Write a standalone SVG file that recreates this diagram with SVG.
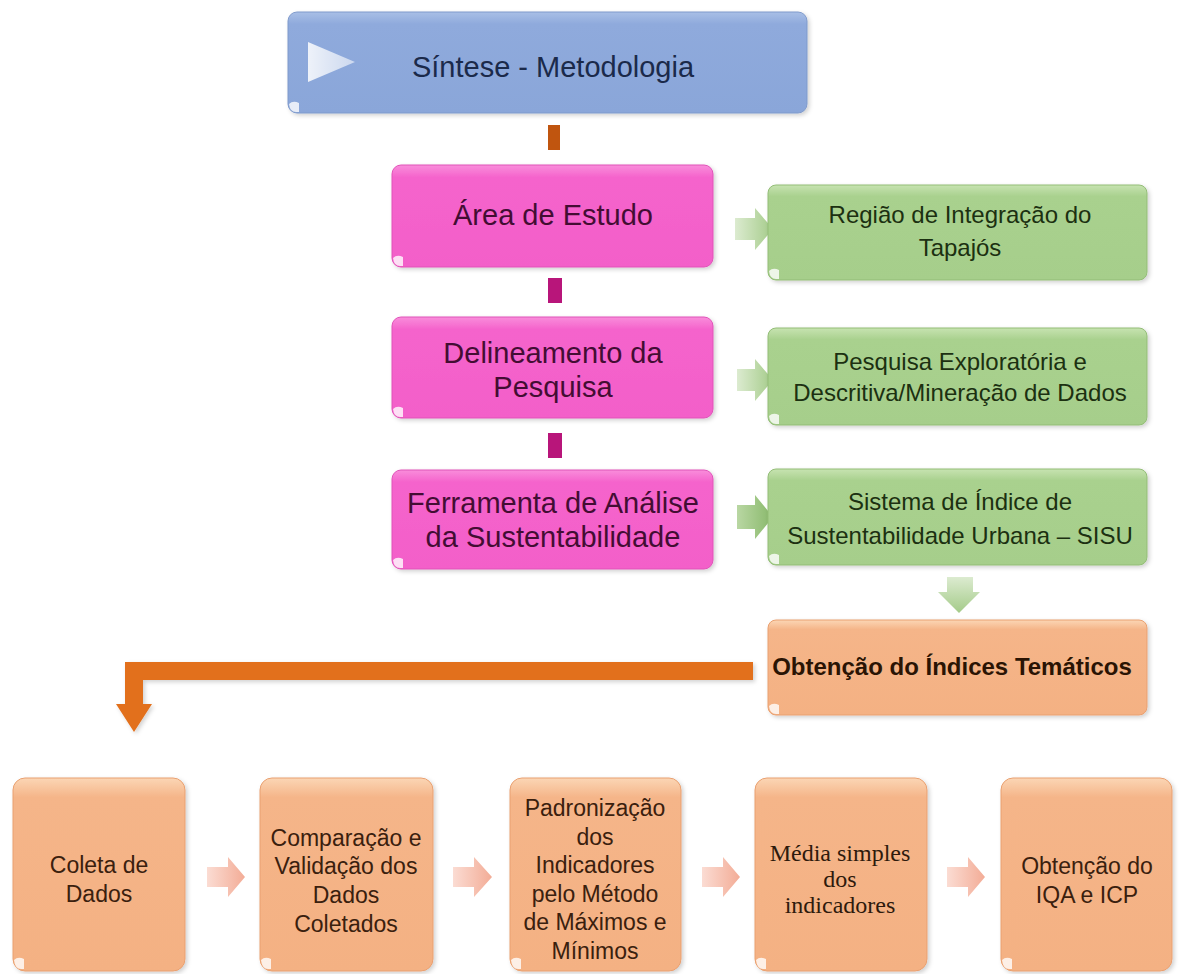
<svg xmlns="http://www.w3.org/2000/svg" width="1181" height="974" viewBox="0 0 1181 974">
<defs>
<style>
.sans{font-family:"Liberation Sans",Arial,sans-serif}
.serif{font-family:"Liberation Serif","Times New Roman",serif}
.t-blue{fill:#1b2a4a;font-size:29px}
.t-pink{fill:#430d33;font-size:29px}
.t-green{fill:#1c3011;font-size:24px}
.t-orange{fill:#2a1404;font-size:24px;font-weight:bold}
.t-bot{fill:#3a200e;font-size:23px}
.t-botserif{fill:#2e1a0c;font-size:24px}
.curl{fill:#ffffff;opacity:0.8}
</style>
<linearGradient id="gBlue" x1="0" y1="0" x2="0" y2="1">
<stop offset="0" stop-color="#a9bfe6"/><stop offset="0.12" stop-color="#8faadc"/><stop offset="1" stop-color="#8aa6d9"/>
</linearGradient>
<linearGradient id="gPink" x1="0" y1="0" x2="0" y2="1">
<stop offset="0" stop-color="#f98ddb"/><stop offset="0.12" stop-color="#f564cc"/><stop offset="1" stop-color="#f35fc9"/>
</linearGradient>
<linearGradient id="gGreen" x1="0" y1="0" x2="0" y2="1">
<stop offset="0" stop-color="#c7e3b1"/><stop offset="0.12" stop-color="#a9d18e"/><stop offset="1" stop-color="#a6ce8b"/>
</linearGradient>
<linearGradient id="gOrange" x1="0" y1="0" x2="0" y2="1">
<stop offset="0" stop-color="#fbd6b5"/><stop offset="0.1" stop-color="#f5b589"/><stop offset="1" stop-color="#f4b183"/>
</linearGradient>
<linearGradient id="gArrG" x1="0" y1="0" x2="1" y2="0">
<stop offset="0" stop-color="#dcebd0"/><stop offset="1" stop-color="#a4cb89"/>
</linearGradient>
<linearGradient id="gArrG2" x1="0" y1="0" x2="1" y2="0">
<stop offset="0" stop-color="#b9d7a3"/><stop offset="1" stop-color="#88b86a"/>
</linearGradient>
<linearGradient id="gArrGD" x1="0" y1="0" x2="0" y2="1">
<stop offset="0" stop-color="#dcebd0"/><stop offset="1" stop-color="#a4cb89"/>
</linearGradient>
<linearGradient id="gArrO" x1="0" y1="0" x2="1" y2="0">
<stop offset="0" stop-color="#fbdcd3"/><stop offset="1" stop-color="#f3ac96"/>
</linearGradient>
<linearGradient id="gTri" x1="0" y1="0" x2="1" y2="0">
<stop offset="0" stop-color="#ffffff" stop-opacity="0.85"/><stop offset="1" stop-color="#ffffff" stop-opacity="0.55"/>
</linearGradient>
<filter id="sh" x="-5%" y="-5%" width="115%" height="115%">
<feDropShadow dx="2" dy="2" stdDeviation="2" flood-color="#000000" flood-opacity="0.18"/>
</filter>
</defs>
<rect width="1181" height="974" fill="#ffffff"/>

<g id="connectors">
<rect x="548" y="125" width="12" height="25" fill="#c0550f"/>
<rect x="548" y="278" width="14" height="25" fill="#b8157a"/>
<rect x="548" y="433" width="14" height="25" fill="#b8157a"/>
<path d="M735,218 H755 V208 L773,229 L755,250 V240 H735 Z" fill="url(#gArrG)"/>
<path d="M737,369 H755 V359 L773,380 L755,401 V391 H737 Z" fill="url(#gArrG)"/>
<path d="M737,505 H755 V495 L773,517 L755,539 V529 H737 Z" fill="url(#gArrG2)"/>
<path d="M947,577 H973 V592 H980 L959,613 L938,592 H947 Z" fill="url(#gArrGD)"/>
<path d="M753,662 H125 V704 H116 L134,732 L152,704 H143 V680 H753 Z" fill="#e2701e" filter="url(#sh)"/>
<path d="M207,867 H228 V857 L245,877 L228,897 V887 H207 Z" fill="url(#gArrO)"/>
<path d="M453,867 H474 V857 L492,877 L474,897 V887 H453 Z" fill="url(#gArrO)"/>
<path d="M702,867 H723 V857 L740,877 L723,897 V887 H702 Z" fill="url(#gArrO)"/>
<path d="M947,867 H968 V857 L985,877 L968,897 V887 H947 Z" fill="url(#gArrO)"/>
</g>

<g id="n-sintese">
<rect x="288" y="12" width="519" height="101" rx="9" fill="url(#gBlue)" stroke="#7f9acb" stroke-width="1" filter="url(#sh)"/>
<path d="M289,104 q4,-4 10,-1 v9 h-3 q-6,0 -7,-8 z" class="curl"/>
<polygon points="308,42 355,62 308,82" fill="url(#gTri)"/>
<text x="553" y="77" text-anchor="middle" class="sans t-blue">Síntese - Metodologia</text>
</g>

<g id="n-area">
<rect x="392" y="165" width="321" height="102" rx="9" fill="url(#gPink)" stroke="#e052b8" stroke-width="1" filter="url(#sh)"/>
<path d="M393,258 q4,-4 10,-1 v9 h-3 q-6,0 -7,-8 z" class="curl"/>
<text x="553" y="225" text-anchor="middle" class="sans t-pink">Área de Estudo</text>
</g>

<g id="n-delineamento">
<rect x="392" y="317" width="321" height="101" rx="9" fill="url(#gPink)" stroke="#e052b8" stroke-width="1" filter="url(#sh)"/>
<path d="M393,409 q4,-4 10,-1 v9 h-3 q-6,0 -7,-8 z" class="curl"/>
<text x="553" y="363" text-anchor="middle" class="sans t-pink">Delineamento da</text>
<text x="553" y="397" text-anchor="middle" class="sans t-pink">Pesquisa</text>
</g>

<g id="n-ferramenta">
<rect x="392" y="470" width="321" height="99" rx="9" fill="url(#gPink)" stroke="#e052b8" stroke-width="1" filter="url(#sh)"/>
<path d="M393,560 q4,-4 10,-1 v9 h-3 q-6,0 -7,-8 z" class="curl"/>
<text x="553" y="513" text-anchor="middle" class="sans t-pink">Ferramenta de Análise</text>
<text x="553" y="547" text-anchor="middle" class="sans t-pink">da Sustentabilidade</text>
</g>

<g id="n-regiao">
<rect x="768" y="185" width="379" height="95" rx="8" fill="url(#gGreen)" stroke="#93bd77" stroke-width="1" filter="url(#sh)"/>
<path d="M769,271 q4,-4 10,-1 v9 h-3 q-6,0 -7,-8 z" class="curl"/>
<text x="960" y="223" text-anchor="middle" class="sans t-green">Região de Integração do</text>
<text x="960" y="256" text-anchor="middle" class="sans t-green">Tapajós</text>
</g>

<g id="n-pesquisa">
<rect x="768" y="328" width="379" height="97" rx="8" fill="url(#gGreen)" stroke="#93bd77" stroke-width="1" filter="url(#sh)"/>
<path d="M769,416 q4,-4 10,-1 v9 h-3 q-6,0 -7,-8 z" class="curl"/>
<text x="960" y="370" text-anchor="middle" class="sans t-green">Pesquisa Exploratória e</text>
<text x="960" y="401" text-anchor="middle" class="sans t-green">Descritiva/Mineração de Dados</text>
</g>

<g id="n-sisu">
<rect x="768" y="469" width="379" height="96" rx="8" fill="url(#gGreen)" stroke="#93bd77" stroke-width="1" filter="url(#sh)"/>
<path d="M769,556 q4,-4 10,-1 v9 h-3 q-6,0 -7,-8 z" class="curl"/>
<text x="960" y="510" text-anchor="middle" class="sans t-green">Sistema de Índice de</text>
<text x="960" y="544" text-anchor="middle" class="sans t-green">Sustentabilidade Urbana – SISU</text>
</g>

<g id="n-indices">
<rect x="768" y="620" width="379" height="95" rx="8" fill="url(#gOrange)" stroke="#e9a070" stroke-width="1" filter="url(#sh)"/>
<path d="M769,706 q4,-4 10,-1 v9 h-3 q-6,0 -7,-8 z" class="curl"/>
<text x="952" y="675" text-anchor="middle" class="sans t-orange">Obtenção do Índices Temáticos</text>
</g>

<g id="n-coleta">
<rect x="13" y="778" width="172" height="193" rx="12" fill="url(#gOrange)" stroke="#e9a070" stroke-width="1" filter="url(#sh)"/>
<path d="M14,960 q4,-4 10,-1 v10 h-3 q-6,0 -7,-9 z" class="curl"/>
<text x="99" y="873" text-anchor="middle" class="sans t-bot">Coleta de</text>
<text x="99" y="902" text-anchor="middle" class="sans t-bot">Dados</text>
</g>

<g id="n-comparacao">
<rect x="260" y="778" width="173" height="193" rx="12" fill="url(#gOrange)" stroke="#e9a070" stroke-width="1" filter="url(#sh)"/>
<path d="M261,960 q4,-4 10,-1 v10 h-3 q-6,0 -7,-9 z" class="curl"/>
<text x="346" y="846" text-anchor="middle" class="sans t-bot">Comparação e</text>
<text x="346" y="874" text-anchor="middle" class="sans t-bot">Validação dos</text>
<text x="346" y="903" text-anchor="middle" class="sans t-bot">Dados</text>
<text x="346" y="932" text-anchor="middle" class="sans t-bot">Coletados</text>
</g>

<g id="n-padronizacao">
<rect x="510" y="778" width="171" height="193" rx="12" fill="url(#gOrange)" stroke="#e9a070" stroke-width="1" filter="url(#sh)"/>
<path d="M511,960 q4,-4 10,-1 v10 h-3 q-6,0 -7,-9 z" class="curl"/>
<text x="595" y="816" text-anchor="middle" class="sans t-bot">Padronização</text>
<text x="595" y="845" text-anchor="middle" class="sans t-bot">dos</text>
<text x="595" y="873" text-anchor="middle" class="sans t-bot">Indicadores</text>
<text x="595" y="902" text-anchor="middle" class="sans t-bot">pelo Método</text>
<text x="595" y="930" text-anchor="middle" class="sans t-bot">de Máximos e</text>
<text x="595" y="959" text-anchor="middle" class="sans t-bot">Mínimos</text>
</g>

<g id="n-media">
<rect x="755" y="778" width="172" height="193" rx="12" fill="url(#gOrange)" stroke="#e9a070" stroke-width="1" filter="url(#sh)"/>
<path d="M756,960 q4,-4 10,-1 v10 h-3 q-6,0 -7,-9 z" class="curl"/>
<text x="840" y="861" text-anchor="middle" class="serif t-botserif">Média simples</text>
<text x="840" y="887" text-anchor="middle" class="serif t-botserif">dos</text>
<text x="840" y="913" text-anchor="middle" class="serif t-botserif">indicadores</text>
</g>

<g id="n-obtencao">
<rect x="1001" y="778" width="171" height="193" rx="12" fill="url(#gOrange)" stroke="#e9a070" stroke-width="1" filter="url(#sh)"/>
<path d="M1002,960 q4,-4 10,-1 v10 h-3 q-6,0 -7,-9 z" class="curl"/>
<text x="1087" y="874" text-anchor="middle" class="sans t-bot">Obtenção do</text>
<text x="1087" y="903" text-anchor="middle" class="sans t-bot">IQA e ICP</text>
</g>
</svg>
